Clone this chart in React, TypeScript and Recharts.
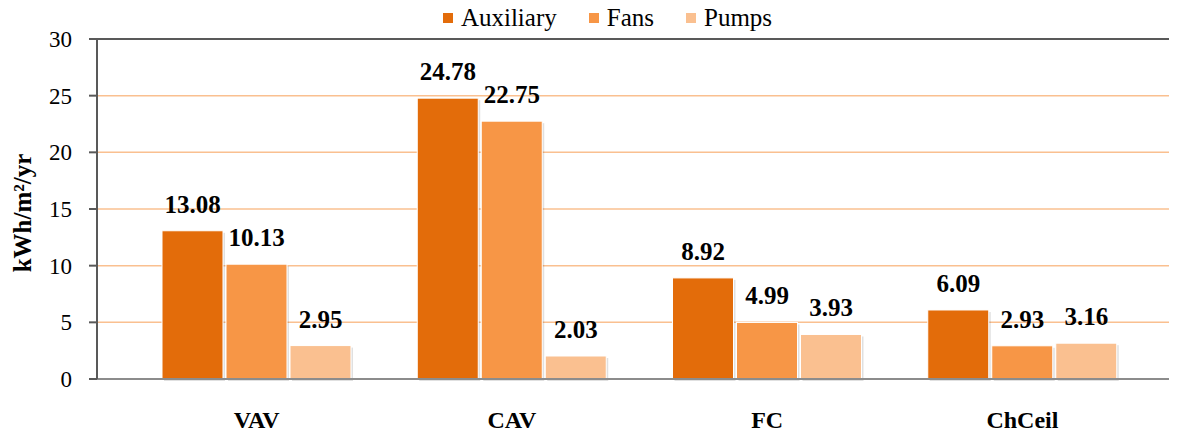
import React from 'react';
import { BarChart, Bar, XAxis, YAxis, CartesianGrid, Legend, LabelList, ReferenceLine } from 'recharts';

const categories = ['VAV', 'CAV', 'FC', 'ChCeil'];
const auxiliary = [13.08, 24.78, 8.92, 6.09];
const fans = [10.13, 22.75, 4.99, 2.93];
const pumps = [2.95, 2.03, 3.93, 3.16];
const yTicks = [0, 5, 10, 15, 20, 25, 30];
const seriesNames = ['Auxiliary', 'Fans', 'Pumps'];
const seriesColors = ['#e36c0a', '#f79646', '#fac090'];

const data = categories.map((c, i) => ({
  name: c,
  Auxiliary: auxiliary[i],
  Fans: fans[i],
  Pumps: pumps[i],
}));

const SERIF = 'Liberation Serif';

const BarShape = (props: any) => {
  const { x, y, width, height, fill } = props;
  if (height <= 0) return null;
  return (
    <g>
      <rect x={x + 2} y={y + 2} width={width} height={height} fill="#000" fillOpacity={0.12} />
      <rect x={x} y={y} width={width} height={height} fill={fill} stroke="#ffffff" strokeWidth={1} />
    </g>
  );
};

const ValueLabel = (props: any) => {
  const { x, y, width, value } = props;
  return (
    <text x={x + width / 2} y={y - 18} textAnchor="middle" fontFamily={SERIF} fontWeight="bold" fontSize={25} fill="#000">
      {Number(value).toFixed(2)}
    </text>
  );
};

const XTick = (props: any) => {
  const { x, y, payload } = props;
  return (
    <text x={x} y={y} dy={49} textAnchor="middle" fontFamily={SERIF} fontWeight="bold" fontSize={24} fill="#000">
      {payload.value}
    </text>
  );
};

const YTick = (props: any) => {
  const { x, y, payload } = props;
  return (
    <text x={x} y={y} dy={8} textAnchor="end" fontFamily={SERIF} fontSize={23} fill="#000">
      {payload.value}
    </text>
  );
};

const LegendContent = () => (
  <div
    style={{
      display: 'flex',
      justifyContent: 'center',
      alignItems: 'center',
      height: 36,
      paddingLeft: 38,
      fontFamily: SERIF,
      fontSize: 25,
      color: '#000',
    }}
  >
    {seriesNames.map((n, i) => (
      <span key={n} style={{ display: 'flex', alignItems: 'center', marginRight: i < seriesNames.length - 1 ? 32 : 0 }}>
        <span style={{ display: 'inline-block', width: 10, height: 10, background: seriesColors[i], marginRight: 8 }} />
        {n}
      </span>
    ))}
  </div>
);

const YLabel = () => (
  <text transform="translate(31,213) rotate(-90)" textAnchor="middle" fontFamily={SERIF} fontWeight="bold" fontSize={25} fill="#000">
    kWh/m²/yr
  </text>
);

export default function App() {
  return (
    <div style={{ margin: '-8px 0 0 -8px', width: 1177, height: 434 }}>
      <BarChart
        width={1177}
        height={434}
        data={data}
        margin={{ top: 39, right: 0, bottom: 0, left: 0 }}
        barSize={61}
        barGap={3}
      >
        <CartesianGrid vertical={false} stroke="#fac090" strokeWidth={1.5} />
        <XAxis
          dataKey="name"
          padding={{ left: 32, right: 27 }}
          height={55}
          tickLine={false}
          tickSize={0}
          tickMargin={0}
          axisLine={{ stroke: '#8c8c8c', strokeWidth: 2 }}
          tick={<XTick />}
          interval={0}
        />
        <YAxis
          width={97}
          domain={[0, 30]}
          ticks={yTicks}
          interval={0}
          tickSize={8}
          tickMargin={17}
          tickLine={{ stroke: '#595959', strokeWidth: 2 }}
          axisLine={{ stroke: '#595959', strokeWidth: 2 }}
          tick={<YTick />}
          label={<YLabel />}
        />
        <ReferenceLine y={30} stroke="#595959" strokeWidth={2} />
        <Legend
          verticalAlign="middle"
          align="center"
          layout="horizontal"
          wrapperStyle={{ top: 0, left: 0, width: 1177 }}
          content={<LegendContent />}
        />
        {seriesNames.map((n, i) => (
          <Bar key={n} dataKey={n} fill={seriesColors[i]} isAnimationActive={false} shape={<BarShape />}>
            <LabelList dataKey={n} content={<ValueLabel />} />
          </Bar>
        ))}
      </BarChart>
    </div>
  );
}
